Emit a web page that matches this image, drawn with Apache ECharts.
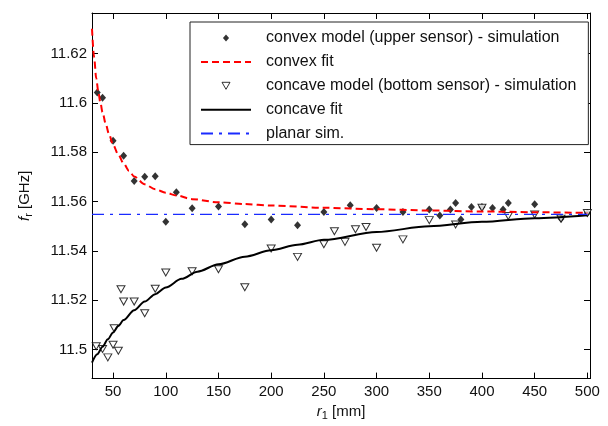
<!DOCTYPE html>
<html><head><meta charset="utf-8">
<script src="https://cdn.jsdelivr.net/npm/echarts@6/dist/echarts.min.js"></script>
<style>html,body{margin:0;padding:0;background:#fff}#c{width:608px;height:426px}</style>
</head><body><div id="c"></div>
<script>
// ---- data ----
const convexX = [35, 40, 50, 60, 70, 80, 90, 100, 110, 125, 150, 175, 200, 225, 250, 275, 300, 325, 350, 360, 370, 375, 380, 390, 400, 410, 420, 425, 450, 475, 500];
const convexY = [11.6042, 11.6021, 11.5846, 11.5786, 11.5683, 11.5701, 11.5703, 11.5518, 11.5638, 11.5573, 11.5580, 11.5508, 11.5528, 11.5504, 11.5558, 11.5585, 11.5574, 11.5558, 11.5568, 11.5544, 11.5568, 11.5594, 11.5528, 11.5578, 11.5578, 11.5574, 11.5568, 11.5594, 11.5589, 11.5531, 11.5554];

const concaveX = [34, 40, 45, 50, 51, 55, 57.5, 60, 70, 80, 90, 100, 125, 150, 175, 200, 225, 250, 260, 270, 280, 290, 300, 325, 350, 375, 400, 425, 450, 475, 500];
const concaveY = [11.5014, 11.5003, 11.4969, 11.5020, 11.5087, 11.4996, 11.5245, 11.5195, 11.5195, 11.5148, 11.5247, 11.5313, 11.5318, 11.5326, 11.5253, 11.5410, 11.5376, 11.5427, 11.5480, 11.5437, 11.5488, 11.5497, 11.5413, 11.5447, 11.5525, 11.5507, 11.5575, 11.5542, 11.5548, 11.5531, 11.5554];

const convexFitX = [30, 32, 34, 36, 38, 40, 43, 46, 50, 55, 60, 65, 70, 80, 90, 100, 110, 125, 150, 175, 200, 250, 300, 350, 400, 450, 500];
const convexFitY = [11.6300, 11.6185, 11.6100, 11.6045, 11.6000, 11.5962, 11.5915, 11.5875, 11.5830, 11.5790, 11.5755, 11.5725, 11.5702, 11.5670, 11.5650, 11.5636, 11.5625, 11.5610, 11.5597, 11.5590, 11.5584, 11.5575, 11.5569, 11.5564, 11.5560, 11.5557, 11.5554];

const concaveFitX = [30, 35, 40, 45, 50, 55, 60, 70, 80, 90, 100, 115, 130, 150, 175, 200, 225, 250, 300, 350, 400, 450, 500];
const concaveFitY = [11.4948, 11.4982, 11.5012, 11.5042, 11.5070, 11.5096, 11.5120, 11.5160, 11.5195, 11.5225, 11.5252, 11.5287, 11.5316, 11.5346, 11.5377, 11.5403, 11.5425, 11.5445, 11.5477, 11.5500, 11.5518, 11.5533, 11.5545];

const planarX = [30, 500];
const planarY = [11.5548, 11.5548];

const xTicks = [50, 100, 150, 200, 250, 300, 350, 400, 450, 500];
const yTicks = [11.5, 11.52, 11.54, 11.56, 11.58, 11.6, 11.62];

const seriesNames = [
  'convex model (upper sensor) - simulation',
  'convex fit',
  'concave model (bottom sensor) - simulation',
  'concave fit',
  'planar sim.'
];

// ---- chart ----
const FONT = '"Liberation Sans", Arial, sans-serif';
const pair = (xs, ys) => xs.map((x, i) => [x, ys[i]]);
const XMIN = 30, XMAX = 502.5, YMIN = 11.4883, YMAX = 11.6364;
const fmt = v => String(parseFloat(Number(v).toFixed(4)));
const NONE = 'rgba(0,0,0,0)';

function xAxisDef(pos, showLabels) {
  return {
    type: 'value', min: XMIN, max: XMAX, position: pos,
    axisLine: { onZero: false, lineStyle: { color: '#000', width: 1 } },
    axisTick: { inside: true, length: 6, customValues: xTicks, lineStyle: { color: '#000' } },
    axisLabel: { show: showLabels, customValues: xTicks, margin: 6, fontSize: 15, color: '#111', fontFamily: FONT, formatter: fmt },
    splitLine: { show: false }
  };
}
function yAxisDef(pos, showLabels) {
  return {
    type: 'value', min: YMIN, max: YMAX, position: pos,
    axisLine: { onZero: false, lineStyle: { color: '#000', width: 1 } },
    axisTick: { inside: true, length: 6, customValues: yTicks, lineStyle: { color: '#000' } },
    axisLabel: { show: showLabels, customValues: yTicks, margin: 5, fontSize: 15, color: '#111', fontFamily: FONT, formatter: fmt },
    splitLine: { show: false }
  };
}

const nameRich = {
  it: { fontSize: 15, fontStyle: 'italic', fontFamily: FONT, color: '#111' },
  sub: { fontSize: 11, fontFamily: FONT, color: '#111', verticalAlign: 'bottom', padding: [7, 0, 0, 0] }
};
const xb = xAxisDef('bottom', true);
xb.name = '{it|r}{sub|1} [mm]';
xb.nameLocation = 'middle';
xb.nameGap = 21;
xb.nameTextStyle = { fontSize: 15, color: '#111', fontFamily: FONT, rich: nameRich };
const yl = yAxisDef('left', true);
yl.name = '{it|f}{sub|r} [GHz]';
yl.nameLocation = 'middle';
yl.nameGap = 58;
yl.nameRotate = 90;
yl.nameTextStyle = { fontSize: 15, color: '#111', fontFamily: FONT, rich: nameRich };

const legendData = [
  { name: seriesNames[0], icon: 'path://M3.5,0L7,4L3.5,8L0,4Z', symbolRotate: 0,
    itemStyle: { color: '#000' } },
  { name: seriesNames[1] },
  { name: seriesNames[2], icon: 'path://M0,0L8,0L4,7Z', symbolRotate: 0,
    itemStyle: { color: '#fff', borderColor: '#000', borderWidth: 1 } },
  { name: seriesNames[3] },
  { name: seriesNames[4] }
];

const option = {
  animation: false,
  backgroundColor: '#fff',
  grid: { left: 92, right: 18, top: 13, bottom: 45 },
  xAxis: [xb, xAxisDef('top', false)],
  yAxis: [yl, yAxisDef('right', false)],
  legend: {
    orient: 'vertical', left: 190, top: 22,
    data: legendData,
    itemWidth: 50, itemHeight: 7, itemGap: 7.9,
    symbolKeepAspect: true,
    padding: [8, 12, 3, 10],
    borderColor: '#222', borderWidth: 1, backgroundColor: '#fff',
    textStyle: { fontSize: 16, color: '#111', fontFamily: FONT, lineHeight: 16, padding: [0, 0, 0, 10] }
  },
  series: [
    {
      name: seriesNames[0], type: 'scatter', data: pair(convexX, convexY),
      symbol: 'diamond', symbolSize: [7, 8],
      itemStyle: { color: '#000' }, z: 3
    },
    {
      name: seriesNames[1], type: 'line', data: pair(convexFitX, convexFitY),
      symbol: 'circle', symbolSize: 0, showSymbol: false, smooth: 0.3, smoothMonotone: 'x',
      lineStyle: { color: '#ff0000', width: 2, type: [7, 4] },
      itemStyle: { color: NONE, borderColor: NONE, borderWidth: 0 }, z: 4
    },
    {
      name: seriesNames[2], type: 'scatter', data: pair(concaveX, concaveY),
      symbol: 'triangle', symbolRotate: 180, symbolSize: [8, 7],
      itemStyle: { color: '#fff', borderColor: '#000', borderWidth: 1 }, z: 3
    },
    {
      name: seriesNames[3], type: 'line', data: pair(concaveFitX, concaveFitY),
      symbol: 'circle', symbolSize: 0, showSymbol: false, smooth: 0.3, smoothMonotone: 'x',
      lineStyle: { color: '#000', width: 2 },
      itemStyle: { color: NONE, borderColor: NONE, borderWidth: 0 }, z: 4
    },
    {
      name: seriesNames[4], type: 'line', data: pair(planarX, planarY),
      symbol: 'circle', symbolSize: 0, showSymbol: false,
      lineStyle: { color: '#1a2bff', width: 1.3, type: [12, 6, 3, 6] },
      itemStyle: { color: NONE, borderColor: NONE, borderWidth: 0 }, z: 4
    }
  ]
};
const chart = echarts.init(document.getElementById('c'), null, { renderer: 'canvas' });
chart.setOption(option);
</script>
</body></html>
